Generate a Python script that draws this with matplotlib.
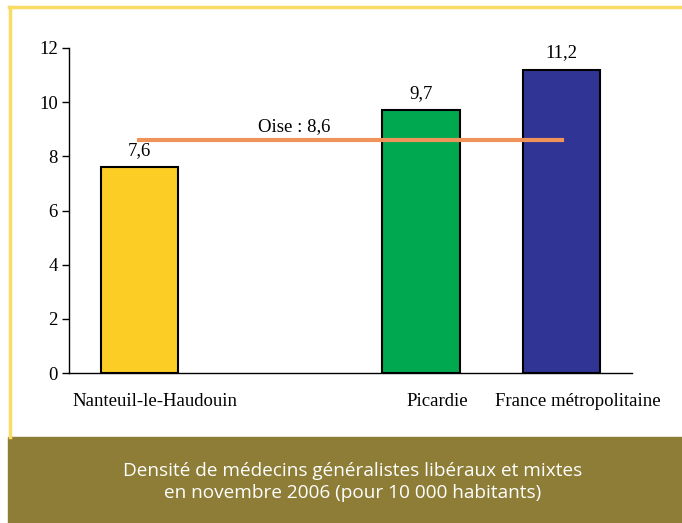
import matplotlib
matplotlib.use('Agg')
import matplotlib.pyplot as plt
from matplotlib.patches import Rectangle
from matplotlib.lines import Line2D
from matplotlib.transforms import ScaledTranslation, blended_transform_factory

categories = ["Nanteuil-le-Haudouin", "", "Picardie", "France métropolitaine"]
values = [7.6, None, 9.7, 11.2]
value_labels = ["7,6", "", "9,7", "11,2"]
bar_colors = ["#FBCD25", "none", "#00A94F", "#303595"]
oise_value = 8.6
oise_label = "Oise : 8,6"
yticks = [0, 2, 4, 6, 8, 10, 12]
caption = "Densité de médecins généralistes libéraux et mixtes\nen novembre 2006 (pour 10 000 habitants)"

W, H = 682, 523
fig = plt.figure(figsize=(W / 100, H / 100), dpi=100)
serif = ['Liberation Serif', 'DejaVu Serif']
fs = 13.5

# frame: yellow border on top/left, olive caption band
fig.add_artist(Line2D([9 / W, 1], [1 - 7 / H, 1 - 7 / H], color="#FADB63", lw=2.5))
fig.add_artist(Line2D([10 / W, 10 / W], [1 - 7 / H, 1 - 437 / H], color="#FADB63", lw=2.5))
fig.add_artist(Rectangle((8 / W, 0), 1 - 8 / W, (523 - 437) / H, color="#8D7D36",
                         transform=fig.transFigure, zorder=0))
fig.text(353 / W, 1 - 482 / H, caption, ha="center", va="center", color="white",
         fontsize=13.7, family=['Open Sans', 'DejaVu Sans'], linespacing=1.25)

ax = fig.add_axes([69 / W, (H - 373) / H, (632 - 69) / W, (373 - 48) / H])
x = list(range(len(categories)))
for xi, v, c, lab in zip(x, values, bar_colors, value_labels):
    if v is None:
        continue
    ax.bar(xi, v, width=0.55, color=c, edgecolor="black", linewidth=1.5, zorder=2)
    ax.text(xi, v + 0.3, lab, ha="center", va="bottom", fontsize=fs, family=serif)

ax.plot([x[0], x[-1]], [oise_value, oise_value], color="#F0935A", lw=3, zorder=3)
ax.text(1.1, oise_value + 0.2, oise_label, ha="center", va="bottom", fontsize=fs, family=serif)

ax.set_xlim(-0.5, len(categories) - 0.5)
ax.set_ylim(0, 12)
ax.set_yticks(yticks)
ax.set_yticklabels([str(t) for t in yticks], fontsize=fs, family=serif)
ax.set_xticks([])

# category labels sit a bit right of the bar centres in the original
lab_tr = blended_transform_factory(ax.transData, ax.transAxes) + \
    ScaledTranslation(16 / 100, -29 / 100, fig.dpi_scale_trans)
for xi, cat in zip(x, categories):
    ax.text(xi, 0, cat, transform=lab_tr, ha="center", va="center",
            fontsize=fs, family=serif)

ax.tick_params(axis="y", length=5, width=1, direction="out", pad=3)
for s in ["top", "right"]:
    ax.spines[s].set_visible(False)
ax.spines["left"].set_linewidth(1)
ax.spines["bottom"].set_linewidth(1)
ax.set_facecolor("none")

fig.savefig("out.png", dpi=100)
